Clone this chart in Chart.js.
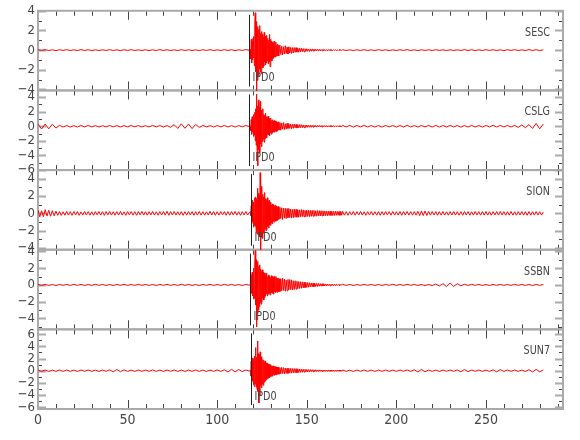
<!DOCTYPE html>
<html><head><meta charset="utf-8">
<script src="https://cdn.jsdelivr.net/npm/chart.js@4.4.1/dist/chart.umd.min.js"></script>
<style>html,body{margin:0;padding:0;background:#fff}#wrap{width:580px;height:440px;position:relative}</style>
</head><body><div id="wrap"><canvas id="c"></canvas></div>
<script>
// ---- chart data ----
const stations = ['SESC','CSLG','SION','SSBN','SUN7'];
const pickLabel = 'IPD0';
const pickTimes = [118.0, 118.0, 118.7, 118.3, 118.7];
const yMin = [-4.1, -6.0, -4.2, -5.3, -6.3];
const yMax = [4.0, 4.9, 5.0, 4.2, 6.8];
const xTickLabels = [0, 50, 100, 150, 200, 250];

// sampling of each trace segment (start time, step in s); background step per station
const preStart = 0, postStart = 170;
const bgStep = [2, 2, 1, 2, 2];
const coda1Start = 118.5, coda1Step = 0.25;
const coda2Start = 135, coda2Step = 0.5;

const sescPre = [0.04,-0.03,0.05,-0.04,0.03,-0.05,0.04,-0.03,0.05,-0.04,0.03,-0.04,0.05,-0.03,0.04,-0.05,0.03,-0.04,0.04,-0.03,0.05,-0.04,0.03,-0.05,0.04,-0.03,0.05,-0.04,0.03,-0.04,0.04,-0.05,0.03,-0.04,0.05,-0.03,0.04,-0.04,0.03,-0.05,0.05,-0.03,0.04,-0.04,0.03,-0.05,0.04,-0.03,0.05,-0.04,0.03,-0.04,0.05,-0.03,0.04,-0.05,0.04,-0.03,0.05,-0.02];
const sescCoda1 = [0.1,-0.9,1.1,-1.3,0.9,-1.0,1.2,-0.8,1.4,-1.6,2.6,3.8,-2.2,2.9,-4.2,1.8,-3.1,2.4,-2.6,2.1,-1.9,2.5,-2.2,1.7,-2.4,1.9,-1.5,1.6,-1.8,1.3,-1.6,1.8,-1.2,1.4,-1.5,1.1,-1.3,1.5,-1.1,1.2,-1.4,1.0,-1.2,1.6,-1.7,1.1,-1.0,0.9,-1.1,0.8,-0.9,0.7,-0.8,0.9,-0.7,0.6,-0.7,0.8,-0.6,0.5,-0.6,0.6,-0.5,0.5,-0.6,0.4];
const sescCoda2 = [0.5,-0.45,0.4,-0.5,0.35,-0.4,0.45,-0.35,0.3,-0.4,0.35,-0.3,0.28,-0.33,0.25,-0.3,0.27,-0.22,0.25,-0.2,0.2,-0.22,0.18,-0.17,0.2,-0.15,0.16,-0.18,0.14,-0.13,0.14,-0.12,0.11,-0.13,0.1,-0.11,0.12,-0.09,0.1,-0.1,0.09,-0.08,0.1,-0.07,0.08,-0.09,0.07,-0.06,0.08,-0.07,0.06,-0.07,0.05,-0.06,0.07,-0.05,0.06,-0.05,0.04,-0.05,0.05,-0.04,0.05,-0.05,0.04,-0.04,0.05,-0.03,0.04,-0.04];
const sescPost = [0.04,-0.04,0.03,-0.05,0.04,-0.03,0.05,-0.04,0.03,-0.04,0.05,-0.03,0.04,-0.05,0.03,-0.04,0.04,-0.03,0.05,-0.04,0.03,-0.05,0.04,-0.03,0.04,-0.04,0.05,-0.03,0.03,-0.05,0.04,-0.04,0.03,-0.03,0.05,-0.04,0.04,-0.05,0.03,-0.04,0.05,-0.03,0.04,-0.04,0.03,-0.05,0.04,-0.03,0.05,-0.04,0.03,-0.04,0.05,-0.03,0.04,-0.04,0.03];

const cslgPre = [0.32,-0.38,0.3,-0.35,0.28,-0.25,0.12,-0.1,0.09,-0.11,0.08,-0.1,0.09,-0.08,0.1,-0.09,0.08,-0.1,0.07,-0.09,0.1,-0.08,0.09,-0.1,0.08,-0.09,0.1,-0.08,0.09,-0.1,0.08,-0.09,0.1,-0.08,0.09,-0.1,0.08,-0.15,0.22,-0.3,0.33,-0.28,0.3,-0.32,0.25,-0.15,0.1,-0.09,0.08,-0.1,0.09,-0.08,0.1,-0.09,0.08,-0.1,0.09,-0.08,0.1,-0.06];
const cslgCoda1 = [0.05,-0.6,0.9,-1.1,1.3,-0.8,1.0,-1.4,1.6,-1.2,1.9,-2.0,2.4,-2.6,4.4,-3.0,2.8,-5.4,3.6,-3.2,2.6,-3.6,3.4,-2.4,2.2,-2.8,1.9,-2.1,2.4,-1.8,1.6,-2.2,1.5,-1.7,1.8,-1.4,1.3,-1.6,1.2,-1.1,1.4,-1.2,1.0,-1.3,1.1,-0.9,1.0,-1.1,0.8,-0.9,0.9,-0.8,0.7,-0.8,0.8,-0.6,0.7,-0.7,0.6,-0.7,0.5,-0.6,0.6,-0.5,0.5,-0.5];
const cslgCoda2 = [0.5,-0.55,0.45,-0.4,0.5,-0.45,0.35,-0.4,0.4,-0.3,0.35,-0.3,0.3,-0.35,0.25,-0.28,0.3,-0.22,0.25,-0.25,0.2,-0.22,0.24,-0.18,0.2,-0.2,0.17,-0.19,0.15,-0.17,0.16,-0.14,0.15,-0.13,0.14,-0.15,0.12,-0.12,0.13,-0.1,0.11,-0.12,0.1,-0.1,0.12,-0.09,0.1,-0.1,0.09,-0.08,0.1,-0.08,0.09,-0.1,0.08,-0.07,0.09,-0.08,0.07,-0.08,0.08,-0.07,0.06,-0.08,0.07,-0.06,0.07,-0.07,0.06,-0.06];
const cslgPost = [0.12,-0.1,0.11,-0.12,0.1,-0.09,0.11,-0.1,0.09,-0.11,0.1,-0.12,0.11,-0.09,0.1,-0.11,0.09,-0.1,0.12,-0.1,0.09,-0.11,0.1,-0.09,0.11,-0.1,0.12,-0.11,0.09,-0.1,0.11,-0.09,0.1,-0.12,0.09,-0.1,0.11,-0.1,0.09,-0.11,0.1,-0.09,0.12,-0.1,0.11,-0.09,0.1,-0.11,0.12,-0.15,0.18,-0.2,0.22,-0.3,0.38,-0.35,0.3];

const sionPre = [0.35,-0.4,0.3,-0.38,0.42,-0.3,0.36,-0.33,0.3,-0.28,0.25,-0.22,0.2,-0.24,0.18,-0.21,0.23,-0.2,0.19,-0.22,0.21,-0.18,0.2,-0.23,0.17,-0.2,0.22,-0.19,0.2,-0.21,0.18,-0.22,0.2,-0.17,0.21,-0.2,0.19,-0.23,0.2,-0.18,0.22,-0.2,0.18,-0.21,0.2,-0.19,0.23,-0.2,0.17,-0.22,0.2,-0.18,0.21,-0.2,0.19,-0.22,0.2,-0.17,0.22,-0.2,0.19,-0.21,0.2,-0.18,0.23,-0.2,0.18,-0.21,0.2,-0.19,0.21,-0.2,0.24,-0.22,0.2,-0.19,0.22,-0.2,0.18,-0.21,0.2,-0.23,0.19,-0.2,0.21,-0.18,0.2,-0.22,0.19,-0.2,0.22,-0.19,0.2,-0.21,0.18,-0.2,0.23,-0.19,0.2,-0.22,0.19,-0.2,0.21,-0.18,0.2,-0.22,0.19,-0.21,0.2,-0.18,0.21,-0.2,0.19,-0.22,0.2,-0.18,0.21,-0.19,0.12];
const sionCoda1 = [0.2,-0.25,0.9,-1.2,1.5,-1.0,1.3,-1.6,1.2,-1.4,1.8,-1.5,1.9,-2.2,1.7,-2.4,2.9,-1.9,2.3,-2.5,2.1,-2.6,4.7,-4.2,3.1,-2.8,2.5,-2.9,2.2,-2.3,1.9,-2.1,2.4,-1.8,1.7,-2.0,1.6,-1.9,1.8,-1.5,1.4,-1.7,1.5,-1.3,1.2,-1.4,1.3,-1.1,1.0,-1.2,1.1,-0.9,1.0,-1.0,0.9,-0.8,0.9,-0.9,0.8,-0.8,0.7,-0.8,0.8,-0.7,0.7,-0.6];
const sionCoda2 = [0.7,-0.6,0.65,-0.7,0.6,-0.55,0.6,-0.6,0.55,-0.5,0.55,-0.5,0.5,-0.55,0.45,-0.5,0.5,-0.45,0.45,-0.45,0.42,-0.45,0.4,-0.4,0.45,-0.38,0.4,-0.4,0.35,-0.4,0.38,-0.35,0.36,-0.38,0.34,-0.35,0.35,-0.32,0.34,-0.33,0.3,-0.33,0.32,-0.3,0.31,-0.3,0.3,-0.29,0.3,-0.28,0.28,-0.27,0.26,-0.27,0.26,-0.25,0.25,-0.24,0.24,-0.25,0.23,-0.24,0.24,-0.22,0.23,-0.22,0.21,-0.23,0.22,-0.21];
const sionPost = [0.23,-0.21,0.2,-0.22,0.19,-0.2,0.22,-0.21,0.2,-0.19,0.21,-0.2,0.18,-0.22,0.2,-0.19,0.21,-0.2,0.19,-0.21,0.2,-0.22,0.19,-0.2,0.21,-0.18,0.2,-0.21,0.22,-0.2,0.19,-0.2,0.21,-0.22,0.2,-0.19,0.22,-0.2,0.19,-0.21,0.2,-0.21,0.24,-0.26,0.28,-0.25,0.27,-0.24,0.22,-0.2,0.21,-0.19,0.2,-0.22,0.19,-0.2,0.21,-0.2,0.18,-0.21,0.2,-0.19,0.22,-0.2,0.19,-0.21,0.2,-0.22,0.21,-0.19,0.2,-0.21,0.18,-0.2,0.22,-0.19,0.2,-0.21,0.19,-0.2,0.21,-0.2,0.19,-0.22,0.2,-0.18,0.21,-0.2,0.22,-0.19,0.2,-0.21,0.19,-0.2,0.22,-0.2,0.18,-0.21,0.2,-0.19,0.21,-0.2,0.19,-0.22,0.2,-0.21,0.19,-0.2,0.21,-0.2,0.19,-0.2,0.15];

const ssbnPre = [0.06,-0.05,0.07,-0.06,0.05,-0.07,0.06,-0.05,0.06,-0.06,0.07,-0.05,0.06,-0.07,0.05,-0.06,0.07,-0.05,0.06,-0.06,0.05,-0.07,0.06,-0.05,0.07,-0.06,0.05,-0.06,0.07,-0.05,0.06,-0.06,0.05,-0.07,0.06,-0.05,0.07,-0.06,0.05,-0.06,0.07,-0.05,0.06,-0.06,0.05,-0.07,0.06,-0.05,0.07,-0.06,0.05,-0.06,0.07,-0.05,0.06,-0.06,0.05,-0.07,0.06,-0.04];
const ssbnCoda1 = [0.1,-0.6,1.2,-1.0,1.5,-1.3,1.1,-1.7,2.0,-1.6,2.6,4.1,-2.4,3.0,-5.0,2.6,-3.4,2.8,-3.0,2.2,-2.6,2.4,-2.1,1.9,-2.3,1.7,-2.0,1.8,-1.6,1.5,-1.8,1.4,-1.5,1.2,-1.3,1.4,-1.1,1.2,-1.3,1.0,-1.1,1.2,-1.0,1.1,-1.2,0.9,-1.0,1.1,-0.9,1.0,-1.0,0.9,-1.1,1.0,-0.8,0.9,-0.9,1.0,-0.8,0.8,-0.9,0.8,-0.7,0.8,-0.8,0.7];
const ssbnCoda2 = [-0.8,0.75,-0.7,0.8,-0.65,0.7,-0.75,0.6,-0.7,0.65,-0.6,0.65,-0.55,0.6,-0.6,0.5,-0.55,0.5,-0.5,0.45,-0.45,0.4,-0.42,0.38,-0.4,0.35,-0.36,0.32,-0.33,0.3,-0.3,0.28,-0.27,0.26,-0.25,0.24,-0.23,0.22,-0.22,0.2,-0.2,0.18,-0.19,0.17,-0.16,0.15,-0.15,0.14,-0.13,0.13,-0.12,0.12,-0.11,0.1,-0.1,0.09,-0.1,0.09,-0.08,0.09,-0.08,0.08,-0.07,0.08,-0.07,0.07,-0.06,0.07,-0.06,0.06];
const ssbnPost = [0.07,-0.06,0.06,-0.07,0.05,-0.06,0.07,-0.05,0.06,-0.06,0.05,-0.07,0.06,-0.05,0.07,-0.06,0.05,-0.06,0.07,-0.05,0.06,-0.06,0.05,-0.07,0.06,-0.08,0.1,-0.12,0.15,-0.2,0.22,-0.18,0.15,-0.1,0.08,-0.06,0.07,-0.05,0.06,-0.06,0.05,-0.07,0.06,-0.05,0.07,-0.06,0.05,-0.06,0.07,-0.05,0.06,-0.06,0.05,-0.07,0.06,-0.05,0.06];

const sun7Pre = [0.12,-0.1,0.11,-0.12,0.1,-0.11,0.12,-0.1,0.11,-0.1,0.1,-0.12,0.11,-0.1,0.12,-0.11,0.1,-0.12,0.11,-0.1,0.15,-0.18,0.2,-0.17,0.15,-0.12,0.1,-0.11,0.12,-0.1,0.11,-0.1,0.12,-0.11,0.1,-0.12,0.11,-0.1,0.12,-0.11,0.1,-0.12,0.11,-0.1,0.12,-0.11,0.1,-0.12,0.11,-0.1,0.12,-0.11,0.15,-0.2,0.22,-0.18,0.2,-0.15,0.12,-0.08];
const sun7Coda1 = [0.1,-0.8,1.6,-1.9,2.1,-1.6,1.8,-2.3,2.0,-2.6,2.4,-2.2,3.8,-2.7,2.2,-3.0,4.9,-3.4,2.8,-5.3,2.6,-4.1,3.1,-2.5,2.3,-2.8,2.0,-2.2,1.8,-2.4,1.7,-1.9,1.5,-1.7,1.6,-1.4,1.3,-1.5,1.2,-1.3,1.1,-1.2,1.0,-1.1,0.9,-1.0,1.0,-0.9,0.8,-0.9,0.8,-0.7,0.8,-0.75,0.7,-0.7,0.65,-0.7,0.6,-0.65,0.6,-0.55,0.6,-0.6,0.5,-0.55];
const sun7Coda2 = [0.5,-0.5,0.55,-0.45,0.5,-0.5,0.45,-0.45,0.4,-0.45,0.4,-0.4,0.38,-0.4,0.35,-0.36,0.35,-0.33,0.32,-0.34,0.3,-0.3,0.28,-0.27,0.26,-0.25,0.24,-0.23,0.22,-0.22,0.2,-0.2,0.19,-0.18,0.18,-0.17,0.16,-0.16,0.15,-0.15,0.14,-0.15,0.13,-0.14,0.13,-0.12,0.13,-0.12,0.12,-0.11,0.12,-0.11,0.12,-0.12,0.11,-0.12,0.11,-0.11,0.12,-0.1,0.11,-0.11,0.1,-0.11,0.12,-0.1,0.11,-0.1,0.11,-0.1];
const sun7Post = [0.12,-0.11,0.1,-0.12,0.11,-0.1,0.12,-0.11,0.1,-0.12,0.11,-0.1,0.12,-0.11,0.1,-0.12,0.11,-0.1,0.12,-0.11,0.15,-0.2,0.22,-0.18,0.12,-0.11,0.1,-0.12,0.11,-0.1,0.12,-0.11,0.14,-0.18,0.2,-0.15,0.11,-0.1,0.12,-0.11,0.1,-0.12,0.15,-0.2,0.18,-0.12,0.11,-0.1,0.12,-0.11,0.1,-0.12,0.16,-0.2,0.22,-0.18,0.12];

const traces = [
  [sescPre, sescCoda1, sescCoda2, sescPost],
  [cslgPre, cslgCoda1, cslgCoda2, cslgPost],
  [sionPre, sionCoda1, sionCoda2, sionPost],
  [ssbnPre, ssbnCoda1, ssbnCoda2, ssbnPost],
  [sun7Pre, sun7Coda1, sun7Coda2, sun7Post]
];

// ---- build chart ----
const FONT = '"Liberation Sans Narrow", "DejaVu Sans Condensed", "Liberation Sans", sans-serif';
function toPoints(segs, bg) {
  const starts = [preStart, coda1Start, coda2Start, postStart];
  const steps = [bg, coda1Step, coda2Step, bg];
  const pts = [];
  segs.forEach((vals, s) => vals.forEach((v, i) => pts.push({x: starts[s] + steps[s] * i, y: v})));
  return pts;
}

const datasets = traces.map((segs, i) => ({
  label: stations[i],
  data: toPoints(segs, bgStep[i]),
  yAxisID: 'y' + i,
  borderColor: '#ff0000',
  borderWidth: 1,
  pointRadius: 0,
  tension: 0,
  fill: false
}));

const scales = {
  x: {
    type: 'linear', position: 'bottom', min: 0, max: 293,
    afterFit: s => { s.height = 31; },
    grid: {display: false, drawTicks: false},
    border: {display: false},
    afterBuildTicks: s => { s.ticks = xTickLabels.map(v => ({value: v})); },
    ticks: {padding: 3, color: '#444', autoSkip: false, maxRotation: 0, font: {family: FONT, size: 14}}
  }
};
for (let i = 4; i >= 0; i--) {
  scales['y' + i] = {
    type: 'linear', position: 'left', stack: 'traces', stackWeight: 1,
    min: yMin[i], max: yMax[i],
    afterFit: s => { s.width = 38; },
    grid: {display: false, drawTicks: false},
    border: {display: false},
    ticks: {stepSize: 2, includeBounds: false, autoSkip: false, padding: 3, color: '#444',
      font: {family: FONT, size: 13},
      callback: v => (v < 0 ? '\u2212' + Math.abs(v) : String(v))}
  };
}

const framePlugin = {
  id: 'frame',
  beforeDatasetsDraw(chart) {
    const ctx = chart.ctx, ca = chart.chartArea, xs = chart.scales.x;
    ctx.save();
    for (let i = 0; i < 5; i++) {
      const s = chart.scales['y' + i];
      const top = s.top, bot = s.bottom;
      ctx.strokeStyle = '#444'; ctx.lineWidth = 1;
      for (let v = 10; v <= 290; v += 10) {
        const px = Math.round(xs.getPixelForValue(v)) + 0.5;
        const len = v % 50 === 0 ? 9 : 5;
        ctx.beginPath();
        ctx.moveTo(px, top); ctx.lineTo(px, top + len);
        ctx.moveTo(px, bot); ctx.lineTo(px, bot - len);
        ctx.stroke();
      }
      for (let v = Math.ceil(yMin[i]); v <= Math.floor(yMax[i]); v++) {
        const py = Math.round(s.getPixelForValue(v)) + 0.5;
        const major = v % 2 === 0;
        ctx.strokeStyle = major ? '#aaa' : '#444';
        ctx.lineWidth = major ? 2 : 1;
        const len = major ? 8 : 4;
        ctx.beginPath();
        ctx.moveTo(ca.left, py); ctx.lineTo(ca.left + len, py);
        ctx.moveTo(ca.right, py); ctx.lineTo(ca.right - len, py);
        ctx.stroke();
      }
      ctx.strokeStyle = '#aaa'; ctx.lineWidth = 2;
      ctx.strokeRect(ca.left, top, ca.right - ca.left, bot - top);
    }
    ctx.restore();
  },
  afterDatasetsDraw(chart) {
    const ctx = chart.ctx, ca = chart.chartArea, xs = chart.scales.x;
    ctx.save();
    for (let i = 0; i < 5; i++) {
      const s = chart.scales['y' + i];
      const top = s.top, bot = s.bottom;
      const px = Math.round(xs.getPixelForValue(pickTimes[i])) + 0.5;
      ctx.strokeStyle = '#222'; ctx.lineWidth = 1;
      ctx.beginPath(); ctx.moveTo(px, top + 4); ctx.lineTo(px, bot - 4); ctx.stroke();
      ctx.fillStyle = '#444';
      ctx.font = '13px ' + FONT;
      ctx.textBaseline = 'alphabetic';
      ctx.save();
      ctx.translate(px + 3, bot - 9); ctx.scale(0.82, 1);
      ctx.textAlign = 'left'; ctx.fillText(pickLabel, 0, 0);
      ctx.restore();
      ctx.save();
      ctx.translate(ca.right - 13, top + 25); ctx.scale(0.82, 1);
      ctx.textAlign = 'right'; ctx.fillText(stations[i], 0, 0);
      ctx.restore();
    }
    ctx.restore();
  }
};

new Chart(document.getElementById('c'), {
  type: 'line',
  data: {datasets},
  options: {
    responsive: true, maintainAspectRatio: false, animation: false, devicePixelRatio: 1,
    layout: {padding: {top: 5, right: 17, left: 0, bottom: 0}},
    plugins: {legend: {display: false}, tooltip: {enabled: false}},
    scales
  },
  plugins: [framePlugin]
});
</script></body></html>
